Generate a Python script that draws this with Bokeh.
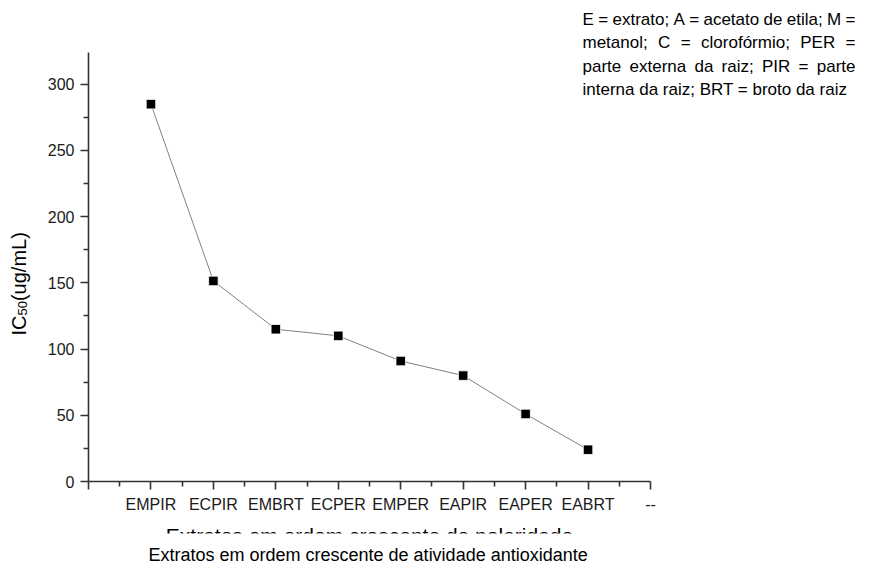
import numpy as np
from bokeh.plotting import figure
from bokeh.models import Range1d, FixedTicker, Label, LinearAxis, BoxAnnotation
from bokeh.embed import file_html
from bokeh.resources import INLINE

# IC50 values of the extracts, in increasing order of antioxidant activity
extracts = ["EMPIR", "ECPIR", "EMBRT", "ECPER", "EMPER", "EAPIR", "EAPER", "EABRT"]
ic50 = [285, 151.5, 115, 110, 91, 80, 51, 24]
end_tick = "--"
y_ticks = [0, 50, 100, 150, 200, 250, 300]
y_minor = [25, 75, 125, 175, 225, 275]

legend_lines = [
    "E = extrato; A = acetato de etila; M =",
    "metanol; C = clorofórmio; PER =",
    "parte externa da raiz; PIR = parte",
    "interna da raiz; BRT = broto da raiz",
]
x_title_hidden = "Extratos em ordem crescente de polaridade"
x_title = "Extratos em ordem crescente de atividade antioxidante"

FONT = "Liberation Sans"
W, H = 880, 563
# pixel positions of the axis corners on the canvas
LEFT, RIGHT, TOP, BOTTOM = 88, 650, 52, 481
X_MAX, Y_MAX = len(extracts) + 1, 324
KX = X_MAX / (RIGHT - LEFT)
KY = Y_MAX / (BOTTOM - TOP)

# the plotting frame fills the whole canvas; the axes sit at fixed data locations
p = figure(width=W, height=H,
           x_range=Range1d(-LEFT * KX, X_MAX + (W - RIGHT) * KX),
           y_range=Range1d(-(H - BOTTOM) * KY, Y_MAX + TOP * KY),
           x_axis_location=None, y_axis_location=None,
           output_backend="svg", toolbar_location=None, min_border=0)
p.outline_line_color = None
p.grid.visible = False
p.background_fill_color = "white"
p.border_fill_color = "white"

xs = list(range(1, len(extracts) + 1))
p.line(xs, ic50, line_color="#808080", line_width=1)
p.scatter(xs, ic50, marker="square", size=9.5, fill_color="black",
          line_color="white", line_width=0.8)

overrides = {0: ""}
for i, name in enumerate(extracts):
    overrides[i + 1] = name
overrides[X_MAX] = end_tick

xaxis = LinearAxis(fixed_location=0, bounds=(0, X_MAX),
                   ticker=FixedTicker(ticks=list(range(0, X_MAX + 1)),
                                      minor_ticks=[i + 0.5 for i in range(X_MAX)]),
                   major_label_overrides=overrides)
yaxis = LinearAxis(fixed_location=0, bounds=(0, Y_MAX),
                   ticker=FixedTicker(ticks=y_ticks, minor_ticks=y_minor))
p.add_layout(xaxis, "below")
p.add_layout(yaxis, "left")

for ax in (xaxis, yaxis):
    ax.axis_line_color = "#333333"
    ax.axis_line_width = 1.6
    ax.major_tick_line_color = "#333333"
    ax.major_tick_line_width = 1.6
    ax.minor_tick_line_color = "#333333"
    ax.minor_tick_line_width = 1.6
    ax.major_tick_in = 0
    ax.major_tick_out = 8
    ax.minor_tick_in = 0
    ax.minor_tick_out = 5
    ax.major_label_text_font = FONT
    ax.major_label_text_font_size = "16px"
    ax.major_label_text_color = "#1a1a1a"
    ax.major_label_standoff = 6
xaxis.major_label_orientation = "horizontal"


def dx(px):
    return (px - LEFT) * KX


def dy(py):
    return (BOTTOM - py) * KY


# Arial / Liberation Sans advance widths (1/1000 em) for justified text
ADV = {" ": 278, "=": 584, ";": 278, "(": 333, ")": 333, "/": 278, "-": 333,
       "A": 667, "B": 667, "C": 722, "E": 667, "I": 278, "L": 556, "M": 833,
       "P": 667, "R": 722, "T": 611,
       "a": 556, "b": 556, "c": 500, "d": 556, "e": 556, "f": 278, "g": 556,
       "h": 556, "i": 222, "l": 222, "m": 833, "n": 556, "o": 556, "p": 556,
       "r": 333, "s": 500, "t": 278, "u": 556, "v": 500, "x": 500, "z": 500,
       "ó": 556, "0": 556, "5": 556}


def text_width(s, size):
    return sum(ADV.get(ch, 556) for ch in s) / 1000 * size


def add_text(text, px, py, size, align="left", angle=0.0, color="#000000",
             baseline="alphabetic"):
    lab = Label(x=dx(px), y=dy(py), text=text, text_font=FONT,
                text_font_size=f"{size}px", text_color=color, text_align=align,
                text_baseline=baseline, angle=angle)
    p.add_layout(lab)
    return lab


# justified note block, upper right
NOTE_L, NOTE_R, NOTE_SIZE = 582, 855, 17
note_baselines = [18.5, 42, 65.5, 89]
for k, line in enumerate(legend_lines):
    words = line.split(" ")
    yb = note_baselines[k]
    if k == len(legend_lines) - 1:
        add_text(line, NOTE_L, yb, NOTE_SIZE)
        continue
    widths = [text_width(w, NOTE_SIZE) for w in words]
    gap = (NOTE_R - NOTE_L - sum(widths)) / (len(words) - 1)
    xpos = NOTE_L
    for w, ww in zip(words, widths):
        add_text(w, xpos, yb, NOTE_SIZE)
        xpos += ww + gap

# y axis title: IC with subscript 50, read bottom to top
YL_SIZE, YL_SUB = 20, 13
y0 = 335
add_text("IC", 18, y0, YL_SIZE, angle=np.pi / 2)
y1 = y0 - text_width("IC", YL_SIZE)
add_text("50", 22, y1, YL_SUB, angle=np.pi / 2)
y2 = y1 - text_width("50", YL_SUB)
add_text("(ug/mL)", 18, y2, YL_SIZE, angle=np.pi / 2)

# x titles: only the upper part of the first one shows above a white band
x_mid = (LEFT + RIGHT) / 2
add_text(x_title_hidden, x_mid, 535, 21, align="center")
p.add_layout(BoxAnnotation(left=dx(140), right=dx(640), top=dy(533), bottom=dy(H + 5),
                           fill_color="white", fill_alpha=1.0, line_color=None))
add_text(x_title, 148, 554, 18)

open("out.html", "w").write(file_html(p, INLINE))
